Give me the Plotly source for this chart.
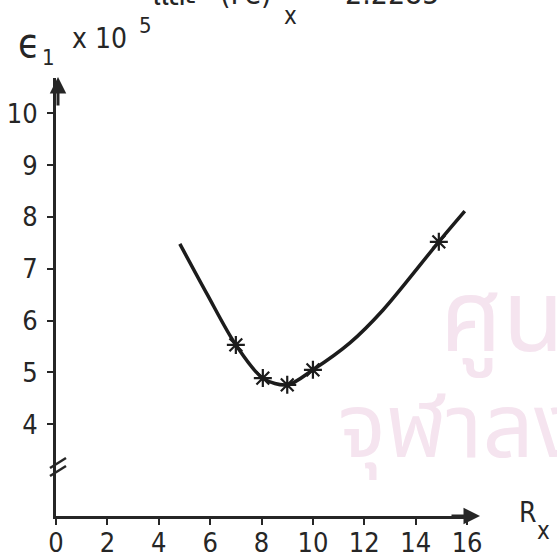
import plotly.graph_objects as go

# Measured points (R_x, epsilon_1 x 10^5)
measured_rx = [7.0, 8.05, 9.0, 10.0, 14.9]
measured_eps = [5.53, 4.89, 4.76, 5.05, 7.52]

# Smooth curve drawn through the measurements
curve_rx = [4.82, 5.88, 7.0, 8.05, 9.0, 10.0, 11.44, 12.72, 14.9, 15.91]
curve_eps = [7.48, 6.51, 5.53, 4.89, 4.76, 5.05, 5.57, 6.2, 7.52, 8.11]

x_ticks = [0, 2, 4, 6, 8, 10, 12, 14, 16]
y_ticks = [4, 5, 6, 7, 8, 9, 10]

W, H = 557, 560
L, R, T, B = 56, 84, 78, 44
X_RANGE = [0, 16.23]
Y_RANGE = [2.23, 10.68]
INK = "#262626"
FONT = "Liberation Sans Narrow, DejaVu Sans Condensed, Liberation Sans, Arial, sans-serif"
THAI = "Noto Sans Thai, Noto Sans, sans-serif"
WATERMARK = "#f5e4ef"


def px_x(p):
    return (p - L) / (W - L - R)


def px_y(p):
    return (H - B - p) / (H - T - B)


def label(text, left, mid, size, family=FONT, color=INK):
    return dict(x=px_x(left), y=px_y(mid), xref="paper", yref="paper",
                xanchor="left", yanchor="middle", showarrow=False,
                text=text, font=dict(family=family, size=size, color=color))


fig = go.Figure()

fig.add_trace(go.Scatter(
    x=curve_rx, y=curve_eps, mode="lines",
    line=dict(color="#1c1c1c", width=3.5, shape="spline", smoothing=0.9),
    hoverinfo="skip", showlegend=False,
))
fig.add_trace(go.Scatter(
    x=measured_rx, y=measured_eps, mode="markers",
    marker=dict(symbol="asterisk-open", size=15, color="#1c1c1c",
                line=dict(color="#1c1c1c", width=2.2)),
    showlegend=False,
))

axis_common = dict(
    showline=True, linecolor=INK, linewidth=3,
    ticks="outside", tickcolor=INK, tickwidth=2, ticklen=6,
    showgrid=False, zeroline=False, automargin=False,
)

fig.update_layout(
    width=W, height=H,
    margin=dict(l=L, r=R, t=T, b=B, autoexpand=False),
    paper_bgcolor="white", plot_bgcolor="white",
    xaxis=dict(range=X_RANGE, tickmode="array", tickvals=x_ticks,
               ticktext=[str(v) for v in x_ticks],
               tickfont=dict(family=FONT, size=27, color=INK),
               ticklabelstandoff=-5, **axis_common),
    yaxis=dict(range=Y_RANGE, tickmode="array", tickvals=y_ticks,
               ticktext=[str(v) for v in y_ticks],
               tickfont=dict(family=FONT, size=27, color=INK),
               ticklabelstandoff=4, **axis_common),
)

annotations = [
    # axis arrows
    dict(x=px_x(480), y=px_y(516), xref="paper", yref="paper",
         ax=-30, ay=0, text="", showarrow=True, arrowhead=2,
         arrowsize=1.1, arrowwidth=3, arrowcolor=INK),
    dict(x=px_x(58), y=px_y(77), xref="paper", yref="paper",
         ax=0, ay=30, text="", showarrow=True, arrowhead=2,
         arrowsize=1.1, arrowwidth=3, arrowcolor=INK),
    # vertical axis title: epsilon_1 x 10^5
    label("ϵ", 16, 43, 40),
    label("1", 40, 57, 22),
    label("x 10", 70, 38, 28),
    label("5", 137, 25, 22),
    # horizontal axis title: R_x
    label("R", 517, 512, 28),
    label("x", 535, 531, 24),
    # caption line continuing from above
    label("และ", 150, -4, 30, family=THAI),
    label("(Fe)", 218, -6, 30),
    label("x", 282, 16, 24),
    label("2.2285", 343, -6, 30),
    # library watermark
    label("ศูนย์วิทยทรัพยากร", 438, 320, 100, family=THAI, color=WATERMARK),
    label("จุฬาลงกรณ์มหาวิทยาลัย", 336, 430, 90, family=THAI, color=WATERMARK),
]
fig.update_layout(annotations=annotations)

# axis-break marks on the vertical axis
shapes = []
for dy in (-4, 4):
    shapes.append(dict(
        type="line", xref="paper", yref="paper",
        xsizemode="pixel", ysizemode="pixel",
        xanchor=px_x(58), yanchor=px_y(467),
        x0=-8, x1=8, y0=-5 + dy, y1=5 + dy,
        line=dict(color=INK, width=2.5),
    ))
fig.update_layout(shapes=shapes)

fig.write_html("out.html")
